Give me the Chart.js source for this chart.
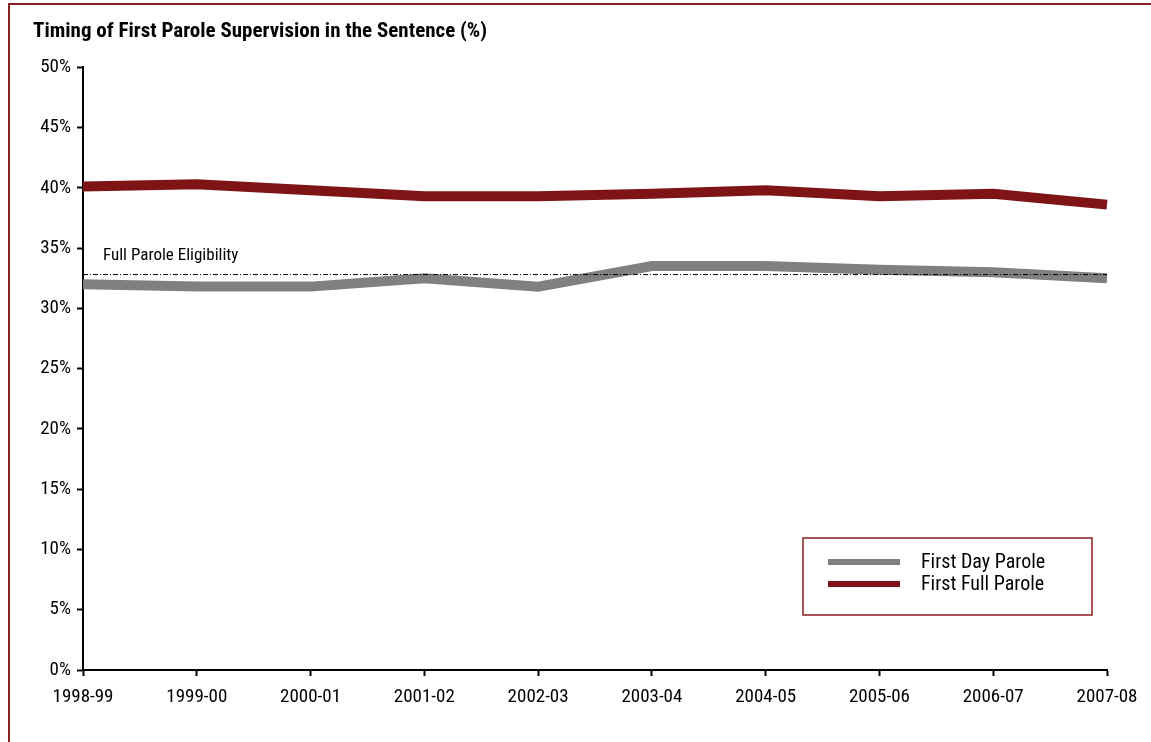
<!DOCTYPE html>
<html>
<head>
<meta charset="utf-8">
<script src="https://cdn.jsdelivr.net/npm/chart.js@4.4.1/dist/chart.umd.min.js"></script>
<style>
    html, body { margin: 0; padding: 0; background: #fff; }
    #wrap { position: relative; width: 1151px; height: 742px; }
    #frame {
        position: absolute; left: 8px; top: 3px; right: -4px; bottom: -4px;
        border-top: 2px solid #8b1c1f; border-left: 2px solid #8b1c1f;
        pointer-events: none;
    }
</style>
</head>
<body>
<div id="wrap">
    <canvas id="parole-chart" width="1151" height="742"></canvas>
    <div id="frame"></div>
</div>
<script>
const years = ['1998-99', '1999-00', '2000-01', '2001-02', '2002-03', '2003-04', '2004-05', '2005-06', '2006-07', '2007-08'];
const firstDayParole = [32.0, 31.8, 31.8, 32.5, 31.8, 33.5, 33.5, 33.2, 33.0, 32.5];
const firstFullParole = [40.1, 40.3, 39.8, 39.3, 39.3, 39.5, 39.8, 39.3, 39.5, 38.6];
const eligibilityLevel = 32.8;
const eligibilityLabel = 'Full Parole Eligibility';

const RED = '#7f1416';
const GREY = '#808080';
const FONT = "'Liberation Sans Narrow', 'Arial Narrow', 'Roboto Condensed', 'Liberation Sans', sans-serif";

// reference line label + framed legend in the lower right
const extras = {
    id: 'extras',
    afterDatasetsDraw(chart) {
        const { ctx, chartArea, scales } = chart;
        const yRef = scales.y.getPixelForValue(eligibilityLevel);

        ctx.save();
        ctx.fillStyle = '#000';
        ctx.font = '17px ' + FONT;
        ctx.textBaseline = 'middle';
        ctx.fillText(eligibilityLabel, chartArea.left + 20, yRef - 19);

        const boxW = 289, boxH = 77;
        const bx = chartArea.right - 15 - boxW;
        const by = chartArea.bottom - 55 - boxH;
        ctx.strokeStyle = '#8b1c1f';
        ctx.lineWidth = 1.5;
        ctx.strokeRect(bx, by, boxW, boxH);

        const items = chart.data.datasets.filter(d => d.showInLegend);
        ctx.font = '20px ' + FONT;
        items.forEach((d, i) => {
            const y = by + 24 + i * 22;
            ctx.strokeStyle = d.borderColor;
            ctx.lineWidth = 6;
            ctx.beginPath();
            ctx.moveTo(bx + 25, y);
            ctx.lineTo(bx + 97, y);
            ctx.stroke();
            ctx.fillStyle = '#000';
            ctx.fillText(d.label, bx + 118, y + 1);
        });
        ctx.restore();
    },
};

new Chart(document.getElementById('parole-chart'), {
    type: 'line',
    data: {
        labels: years,
        datasets: [
            {
                label: eligibilityLabel,
                data: years.map(() => eligibilityLevel),
                borderColor: '#000',
                borderWidth: 1,
                borderDash: [5, 2, 1, 2],
                pointRadius: 0,
                showInLegend: false,
            },
            {
                label: 'First Day Parole',
                data: firstDayParole,
                borderColor: GREY,
                borderWidth: 10,
                pointRadius: 0,
                showInLegend: true,
            },
            {
                label: 'First Full Parole',
                data: firstFullParole,
                borderColor: RED,
                borderWidth: 10,
                pointRadius: 0,
                showInLegend: true,
            },
        ],
    },
    options: {
        responsive: false,
        animation: false,
        layout: { padding: { left: 33, right: 44, top: 19, bottom: 0 } },
        plugins: {
            legend: { display: false },
            tooltip: { enabled: false },
            title: {
                display: true,
                text: 'Timing of First Parole Supervision in the Sentence (%)',
                align: 'start',
                color: '#000',
                font: { family: FONT, size: 21, weight: 'bold' },
                padding: { top: 0, bottom: 23 },
            },
        },
        scales: {
            x: {
                offset: false,
                afterFit(scale) { scale.height = 72; },
                border: { color: '#000', width: 2 },
                grid: { display: true, drawOnChartArea: false, drawTicks: true, tickLength: 6, tickWidth: 2, tickColor: '#000' },
                ticks: { color: '#000', padding: 10, maxRotation: 0, font: { family: FONT, size: 19 } },
            },
            y: {
                min: 0,
                max: 50,
                afterFit(scale) { scale.width = 50; },
                border: { color: '#000', width: 2 },
                grid: { display: true, drawOnChartArea: false, drawTicks: true, tickLength: 6, tickWidth: 2, tickColor: '#000' },
                ticks: {
                    stepSize: 5,
                    color: '#000',
                    padding: 6,
                    font: { family: FONT, size: 19 },
                    callback: v => v + '%',
                },
            },
        },
    },
    plugins: [extras],
});
</script>
</body>
</html>
